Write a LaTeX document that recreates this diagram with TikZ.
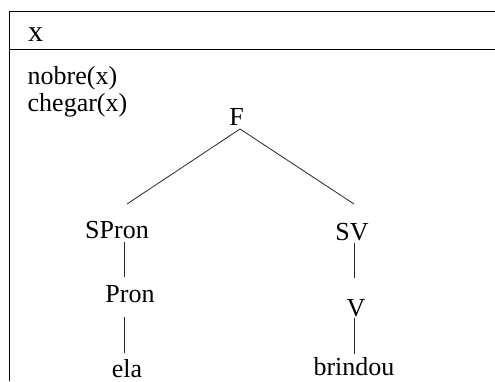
\documentclass[tikz,border=0pt]{standalone}
\usepackage{fontspec}
\setmainfont{Liberation Serif}
\begin{document}
\begin{tikzpicture}[x=1pt, y=-1pt,
  lbl/.style={inner sep=0pt, anchor=base, font=\fontsize{26}{30}\selectfont},
  side/.style={lbl, anchor=base west},
  frame/.style={line width=1pt, black},
  branch/.style={line width=0.8pt, black!85}]
\useasboundingbox (0,0) rectangle (495,381);

% discourse box: header row and body
\draw[frame] (9,381) -- (9,11) -- (495,11);
\draw[frame] (9,49) -- (495,49);

% header referent and conditions
\node[side, font=\fontsize{30}{34}\selectfont] (hdr) at (28,41.7) {x};
\node[side] (cond1) at (27.5,84) {nobre(x)};
\node[side] (cond2) at (27.5,111.5) {chegar(x)};

% syntactic tree
\node[lbl] (F) at (236.5,125.5) {F};
\node[lbl] (SPron) at (117,238) {SPron};
\node[lbl] (Pron) at (130,302) {Pron};
\node[lbl] (ela) at (127,377) {ela};
\node[lbl] (SV) at (352,240) {SV};
\node[lbl] (V) at (356,316) {V};
\node[lbl] (brindou) at (354,375) {brindou};

\draw[branch] ([shift={(3.5,3.5)}]F.base) -- ([shift={(10,-34)}]SPron.base);
\draw[branch] ([shift={(3.5,3.5)}]F.base) -- ([shift={(2,-36)}]SV.base);
\draw[branch] ([shift={(7,3.7)}]SPron.base) -- ([shift={(-6,-25)}]Pron.base);
\draw[branch] ([shift={(-6,14.7)}]Pron.base) -- ([shift={(-3,-24)}]ela.base);
\draw[branch] ([shift={(2,2.7)}]SV.base) -- ([shift={(-2,-38)}]V.base);
\draw[branch] ([shift={(-2,2)}]V.base) -- ([shift={(0,-21)}]brindou.base);
\end{tikzpicture}
\end{document}
